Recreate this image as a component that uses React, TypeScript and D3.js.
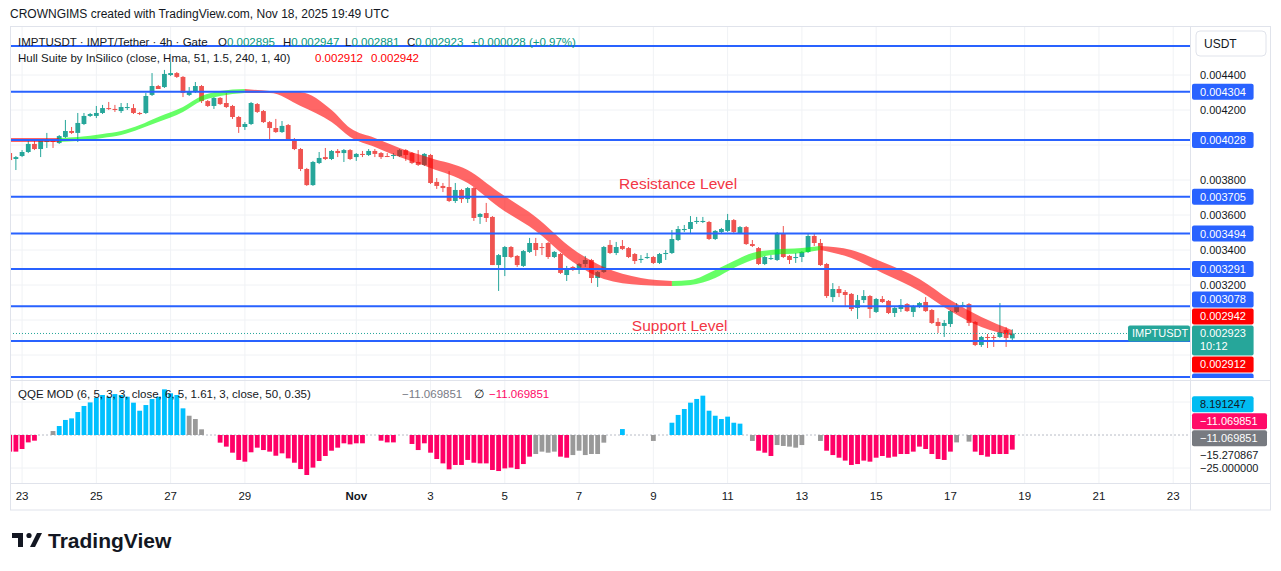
import * as d3 from 'd3'

// 4h candles of IMPTUSDT (Gate), Oct 22 16:00 UTC -> Nov 18 16:00 UTC
// prices in millionths of USDT (4304 = 0.004304)
const opens = [
  3954, 3920, 3937, 3960, 4006, 3977, 4017, 4023, 4011, 4046,
  4080, 4069, 4120, 4166, 4166, 4183, 4211, 4206, 4194, 4211,
  4211, 4183, 4183, 4286, 4337, 4331, 4400, 4411, 4389, 4286,
  4303, 4337, 4251, 4223, 4269, 4240, 4223, 4160, 4103, 4120,
  4234, 4194, 4131, 4097, 4074, 4114, 4034, 3977, 3863, 3771,
  3897, 3931, 3920, 3966, 3954, 3971, 3931, 3949, 3943, 3966,
  3954, 3937, 3937, 3937, 3971, 3954, 3903, 3886, 3943, 3789,
  3766, 3760, 3680, 3743, 3691, 3754, 3589, 3611, 3589, 3314,
  3360, 3417, 3366, 3309, 3389, 3440, 3417, 3440, 3360, 3377,
  3257, 3303, 3291, 3320, 3343, 3240, 3274, 3429, 3383, 3423,
  3411, 3377, 3343, 3354, 3360, 3326, 3377, 3383, 3457, 3514,
  3520, 3560, 3560, 3560, 3463, 3503, 3509, 3571, 3497, 3531,
  3434, 3411, 3320, 3349, 3343, 3497, 3366, 3354, 3360, 3389,
  3480, 3440, 3320, 3131, 3177, 3160, 3149, 3069, 3114, 3137,
  3046, 3120, 3109, 3040, 3063, 3091, 3046, 3074, 3103, 3057,
  2989, 2966, 2977, 3046, 3080, 3091, 2989, 2857, 2903, 2903,
  2903, 2943, 2895,
]
const highs = [
  3966, 3937, 3971, 4029, 4023, 4029, 4069, 4029, 4057, 4143,
  4103, 4183, 4183, 4183, 4223, 4229, 4246, 4229, 4240, 4240,
  4234, 4189, 4297, 4411, 4343, 4429, 4474, 4417, 4394, 4331,
  4360, 4343, 4257, 4274, 4274, 4297, 4229, 4166, 4131, 4246,
  4240, 4200, 4137, 4149, 4137, 4120, 4040, 3983, 3869, 3909,
  3960, 3983, 3971, 3977, 3977, 3977, 3954, 3966, 3977, 3977,
  3960, 3954, 3954, 3977, 3977, 3960, 3971, 3954, 3949, 3811,
  3783, 3851, 3783, 3749, 3760, 3760, 3611, 3669, 3594, 3377,
  3423, 3423, 3371, 3400, 3469, 3469, 3440, 3446, 3394, 3383,
  3309, 3309, 3326, 3366, 3349, 3280, 3423, 3457, 3446, 3457,
  3417, 3383, 3371, 3383, 3366, 3383, 3400, 3514, 3537, 3543,
  3594, 3589, 3589, 3566, 3514, 3526, 3606, 3577, 3537, 3537,
  3457, 3417, 3366, 3371, 3503, 3537, 3371, 3383, 3394, 3497,
  3497, 3463, 3326, 3211, 3194, 3171, 3154, 3143, 3171, 3143,
  3126, 3137, 3114, 3074, 3120, 3097, 3086, 3103, 3131, 3063,
  3011, 3000, 3057, 3097, 3103, 3097, 2994, 2909, 2920, 2914,
  3097, 2960, 2947,
]
const lows = [
  3903, 3857, 3931, 3954, 3971, 3931, 3983, 3983, 4006, 4040,
  4063, 4017, 4114, 4160, 4154, 4177, 4200, 4189, 4183, 4200,
  4177, 4171, 4177, 4280, 4320, 4326, 4394, 4383, 4274, 4280,
  4297, 4240, 4217, 4206, 4229, 4211, 4149, 4069, 4086, 4114,
  4183, 4126, 4034, 4069, 4069, 4029, 3971, 3851, 3766, 3766,
  3891, 3914, 3914, 3931, 3903, 3914, 3909, 3931, 3937, 3931,
  3920, 3931, 3920, 3931, 3909, 3891, 3880, 3880, 3777, 3749,
  3731, 3674, 3669, 3669, 3669, 3566, 3549, 3560, 3314, 3166,
  3251, 3354, 3303, 3303, 3383, 3366, 3371, 3349, 3354, 3263,
  3223, 3280, 3263, 3303, 3211, 3189, 3269, 3377, 3371, 3400,
  3354, 3320, 3326, 3349, 3320, 3320, 3343, 3377, 3451, 3503,
  3491, 3549, 3554, 3457, 3457, 3497, 3503, 3497, 3491, 3429,
  3417, 3314, 3314, 3343, 3337, 3354, 3320, 3326, 3331, 3383,
  3423, 3309, 3126, 3103, 3131, 3074, 3051, 3006, 3097, 3011,
  3040, 3097, 3034, 3017, 3046, 3046, 3017, 3069, 3046, 2977,
  2926, 2903, 2960, 3040, 3074, 2966, 2851, 2846, 2840, 2846,
  2897, 2846, 2881,
]
const closes = [
  3914, 3931, 3960, 4006, 3977, 4023, 4023, 4017, 4051, 4080,
  4069, 4126, 4166, 4177, 4183, 4211, 4206, 4200, 4217, 4217,
  4183, 4177, 4280, 4337, 4320, 4406, 4411, 4389, 4297, 4303,
  4337, 4251, 4223, 4269, 4234, 4217, 4160, 4103, 4120, 4240,
  4189, 4131, 4097, 4074, 4109, 4034, 3977, 3863, 3771, 3903,
  3926, 3920, 3966, 3954, 3971, 3920, 3949, 3943, 3966, 3949,
  3931, 3933, 3943, 3971, 3943, 3897, 3886, 3949, 3783, 3766,
  3754, 3680, 3743, 3691, 3754, 3583, 3606, 3583, 3314, 3371,
  3417, 3360, 3314, 3394, 3440, 3400, 3411, 3360, 3389, 3269,
  3297, 3291, 3320, 3343, 3240, 3274, 3417, 3383, 3417, 3406,
  3360, 3337, 3349, 3360, 3326, 3377, 3383, 3463, 3520, 3520,
  3560, 3566, 3566, 3463, 3509, 3520, 3571, 3503, 3531, 3434,
  3423, 3320, 3360, 3354, 3497, 3360, 3343, 3360, 3389, 3480,
  3440, 3314, 3137, 3177, 3154, 3143, 3063, 3114, 3137, 3063,
  3120, 3103, 3040, 3069, 3086, 3051, 3080, 3097, 3051, 2983,
  2966, 2983, 3051, 3080, 3086, 2983, 2857, 2903, 2897, 2897,
  2931, 2897, 2923,
]

// Hull Suite band, sampled at candle indices (upper / lower edge)
const hullIdx = [0, 8, 11, 15, 18, 21, 24, 28, 31, 34, 38, 42, 47, 52, 55, 59, 63, 68, 74, 79, 85, 91, 96, 102, 107, 110, 114, 117, 120, 123, 128, 131, 136, 141, 147, 152, 157, 162]
const hullHi = [4040, 4040, 4046, 4063, 4080, 4114, 4160, 4217, 4280, 4309, 4320, 4309, 4303, 4200, 4097, 4040, 3983, 3926, 3857, 3731, 3589, 3406, 3303, 3240, 3223, 3229, 3286, 3337, 3383, 3400, 3411, 3423, 3400, 3331, 3234, 3114, 3017, 2942]
const hullLo = [4017, 4017, 4023, 4040, 4057, 4091, 4131, 4189, 4251, 4280, 4297, 4297, 4223, 4131, 4046, 3989, 3931, 3869, 3783, 3646, 3509, 3331, 3234, 3200, 3194, 3200, 3240, 3297, 3343, 3371, 3383, 3400, 3354, 3269, 3166, 3051, 2960, 2912]

// QQE MOD histogram, one value per candle; kind: B blue, P pink, G gray, - none
const qqeVals = [
  -12.6, -12.6, -10.6, -5.6, -4.3, 0, 0, 3, 6.8, 11.4,
  12.6, 17.4, 22, 24.7, 28.3, 30.3, 29, 31, 30.3, 29,
  24.5, 18.4, 22.7, 27.3, 29, 34.6, 31.6, 30.3, 20.2, 14.6,
  12.1, 4.3, 0, 0, -5.8, -8.8, -13.4, -18.9, -20.2, -13.1,
  -9.6, -11.4, -12.6, -15.7, -13.9, -17.7, -21, -25.8, -30.3, -24.7,
  -19.7, -15.9, -11.9, -9.6, -6.3, -7.1, -6.3, -6.3, 0, 0,
  -4.3, -5.6, -5.6, 0, 0, -6.8, -11.4, -6.3, -13.4, -18.2,
  -21.5, -26, -22.7, -22.7, -18.9, -21, -21.5, -21.5, -26.5, -27.3,
  -25.3, -24.7, -25.8, -22, -16.4, -14.4, -12.6, -13.4, -12.6, -16.4,
  -17.2, -15.2, -11.9, -15.2, -14.4, -14.4, -5.8, 0, 0, 4.5,
  0, 0, 0, 0, -4.5, 0, 0, 9.3, 15.2, 19.7,
  24.5, 27.3, 29.8, 18.4, 14.6, 12.1, 13.9, 9.3, 8.6, 0,
  -4.5, -11.9, -13.4, -15.9, -7.6, -8.3, -8.8, -9.6, -7.6, 0,
  0, -4.5, -11.9, -15.2, -17.2, -19.4, -22.7, -22, -19.4, -20.2,
  -17.2, -15.9, -17.2, -16.4, -14.4, -14.4, -12.6, -8.8, -10.6, -14.4,
  -18.2, -18.9, -12.6, -5.6, 0, -5, -12.6, -15.2, -16.4, -14.4,
  -14.4, -14.4, -11.07,
]
const qqeKind = [
  'PPPPP--GBB', 'BBBBBBBBBB', 'BBBBBBBBBG', 'GG--PPPPPP', 'PPPPPPPPPP',
  'PPPPPPPP--', 'PPP--PPPPP', 'PPPPPPPPPP', 'PPPPPGGGGP', 'PGGGGGG--B',
  '----G--BBB', 'BBBBBBBBB-', 'GPPPGGGGG-', '-GPPPPPPPP', 'PPPPPPPPPP',
  'PPPG-GPPPP', 'PPP',
].join('')

// horizontal levels drawn on the chart
const levelPrices = [4566, 4304, 4028, 3705, 3494, 3291, 3078, 2880, 2674]
const priceTicks = [4400, 4200, 4000, 3800, 3600, 3400, 3200, 3000, 2800]
const dayTicks = ['2025-10-23', '2025-10-25', '2025-10-27', '2025-10-29', '2025-11-01', '2025-11-03', '2025-11-05', '2025-11-07', '2025-11-09', '2025-11-11', '2025-11-13', '2025-11-15', '2025-11-17', '2025-11-19', '2025-11-21', '2025-11-23']
const dayLabels = ['23', '25', '27', '29', 'Nov', '3', '5', '7', '9', '11', '13', '15', '17', '19', '21', '23']
const hullNow = [2942, 2912]
const lastPrice = 2923
// order: nearest to the anchor first
const qqeLabels = [
  { v: -11.069851, text: '\u221211.069851', bg: '#777a80', fg: '#fff' },
  { v: -11.069851, text: '\u221211.069851', bg: '#ff0a68', fg: '#fff' },
  { v: 8.191247, text: '8.191247', bg: '#00bcf2', fg: '#131722' },
]
const qqeAnchor = -15.270867
const qqeFloor = -25

const FONT = '"Liberation Sans", Arial, sans-serif'
const UP = '#26a69a'
const DOWN = '#ef5350'
const BLUE = '#2962ff'
const GRID = '#f0f2f5'
const BORDER = '#e0e3eb'
const TEXT = '#131722'

const fmt = (v: number) => (v / 1e6).toFixed(6)
const boxW = (s: string) => 8 + s.length * 6.7

export default function App() {
  const W = 1281, H = 571
  const L = 10, R = 1190, AR = 1270
  const top = 27, mainBot = 380, qTop = 381, qBot = 483, tBot = 510

  const t0 = new Date(Date.UTC(2025, 9, 22, 16))
  const tN = new Date(Date.UTC(2025, 10, 18, 16))
  const x = d3.scaleUtc().domain([t0, tN]).range([9.7, 1012.3])
  const y = d3.scaleLinear().domain([4400, 3200]).range([75, 285])
  const yq = d3.scaleLinear().domain([25, -25]).range([402, 468])
  const tk = (k: number) => x(d3.utcHour.offset(t0, 4 * k))
  const bw = 4.8

  // hull runs by direction
  const mids = hullIdx.map((_, i) => (hullHi[i] + hullLo[i]) / 2)
  const runs: { pts: number[]; up: boolean }[] = []
  let cur = { pts: [0], up: false }
  for (let i = 1; i < hullIdx.length; i++) {
    const up = mids[i] > mids[i - 1] ? true : mids[i] < mids[i - 1] ? false : cur.up
    if (cur.pts.length > 1 && up !== cur.up) {
      runs.push(cur)
      cur = { pts: [i - 1, i], up }
    } else {
      cur.pts.push(i)
      cur.up = up
    }
  }
  runs.push(cur)
  const hullArea = d3.area<number>()
    .x(i => tk(hullIdx[i]))
    .y0(i => y(hullLo[i]))
    .y1(i => y(hullHi[i]))
    .curve(d3.curveMonotoneX)

  // right-axis labels, pushed away from the last price box
  const lastY = y(lastPrice)
  const anchorTop = lastY - 8
  const anchorBot = lastY + 22
  const axisLimit = mainBot - 2
  type Lab = { v: number; text: string; bg: string; cy: number }
  const raw: Lab[] = [
    ...levelPrices.slice(1).map(v => ({ v, text: fmt(v), bg: BLUE, cy: y(v) })),
    { v: hullNow[0], text: fmt(hullNow[0]), bg: '#ff0000', cy: y(hullNow[0]) },
    { v: hullNow[1], text: fmt(hullNow[1]), bg: '#ff0000', cy: y(hullNow[1]) },
  ]
  const above = raw.filter(l => l.v > lastPrice).sort((a, b) => b.cy - a.cy)
  const below = raw.filter(l => l.v < lastPrice).sort((a, b) => a.cy - b.cy)
  let edge = anchorTop
  above.forEach(l => { l.cy = Math.min(l.cy, edge - 9); edge = l.cy - 8 })
  edge = anchorBot
  below.forEach(l => { l.cy = Math.max(l.cy, edge + 9); edge = l.cy + 8 })
  const axisLabs = [...above, ...below].filter(l => l.cy - 8 < axisLimit)
  const tickShown = priceTicks.filter(v => {
    const ty = y(v)
    if (ty > anchorTop - 6 && ty < anchorBot + 6) return false
    return axisLabs.every(l => Math.abs(l.cy - ty) > 12)
  })

  // QQE labels stacked above the anchor value
  const qAnchorY = yq(qqeAnchor)
  let qEdge = qAnchorY - 8
  const qLabs = qqeLabels.map(l => {
    const cy = Math.min(yq(l.v), qEdge - 9)
    qEdge = cy - 8
    return { ...l, cy }
  })

  const dates = dayTicks.map(s => new Date(s + 'T00:00:00Z'))
  const resistAt = { t: new Date(Date.UTC(2025, 10, 9, 16)), p: 3749 }
  const supportAt = { t: new Date(Date.UTC(2025, 10, 9, 17)), p: 2938 }

  return (
    <svg width={W} height={H} style={{ position: 'absolute', left: 0, top: 0, background: '#fff' }} fontFamily={FONT}>
      <defs>
        <clipPath id="mainClip"><rect x={L} y={top} width={R - L} height={mainBot - 2 - top} /></clipPath>
        <clipPath id="qClip"><rect x={L} y={qTop} width={R - L} height={qBot - qTop} /></clipPath>
        <clipPath id="axClip"><rect x={R} y={top} width={AR - R} height={axisLimit - top} /></clipPath>
      </defs>

      <text x={10} y={18} fontSize={12} fill={TEXT}>CROWNGIMS created with TradingView.com, Nov 18, 2025 19:49 UTC</text>

      {/* grid */}
      {dates.map((d, i) => (
        <line key={'vg' + i} x1={x(d)} x2={x(d)} y1={top} y2={qBot} stroke={GRID} />
      ))}
      {priceTicks.map(v => (
        <line key={'hg' + v} x1={L} x2={R} y1={y(v)} y2={y(v)} stroke={GRID} />
      ))}
      <line x1={L} x2={R} y1={yq(25)} y2={yq(25)} stroke={GRID} />
      <line x1={L} x2={R} y1={yq(-25)} y2={yq(-25)} stroke={GRID} />

      {/* main pane */}
      <g clipPath="url(#mainClip)">
        {opens.map((o, k) => {
          const c = closes[k]
          const col = c >= o ? UP : DOWN
          const cx = tk(k)
          const yt = y(Math.max(o, c))
          const yb = y(Math.min(o, c))
          return (
            <g key={'c' + k}>
              <line x1={cx} x2={cx} y1={y(highs[k])} y2={y(lows[k])} stroke={col} strokeWidth={1} />
              <rect x={cx - bw / 2} y={yt} width={bw} height={Math.max(1, yb - yt)} fill={col} />
            </g>
          )
        })}
        {runs.map((r, i) => (
          <path key={'h' + i} d={hullArea(r.pts) || ''} fill={r.up ? '#00ff00' : '#ff0000'} fillOpacity={0.6} />
        ))}
        {levelPrices.map(v => (
          <line key={'lv' + v} x1={L} x2={R} y1={y(v)} y2={y(v)} stroke={BLUE} strokeWidth={2} />
        ))}
        <line x1={L} x2={1128} y1={lastY} y2={lastY} stroke={UP} strokeDasharray="1,2" />
        <text x={x(resistAt.t)} y={y(resistAt.p)} fontSize={15.5} fill="#f23645" textAnchor="middle">Resistance Level</text>
        <text x={x(supportAt.t)} y={y(supportAt.p)} fontSize={15.5} fill="#f23645" textAnchor="middle">Support Level</text>
      </g>

      {/* legends */}
      <text x={18} y={46} fontSize={11.5} fill={TEXT}>
        <tspan>IMPTUSDT · IMPT/Tether · 4h · Gate</tspan>
        <tspan x={218}>O</tspan><tspan fill="#089981">{fmt(opens[162])}</tspan>
        <tspan x={283}>H</tspan><tspan fill="#089981">{fmt(highs[162])}</tspan>
        <tspan x={345}>L</tspan><tspan fill="#089981">{fmt(lows[162])}</tspan>
        <tspan x={407}>C</tspan><tspan fill="#089981">{fmt(closes[162])}</tspan>
        <tspan x={471} fill="#089981">+0.000028 (+0.97%)</tspan>
      </text>
      <text x={18} y={62} fontSize={11.5} fill={TEXT}>
        <tspan>Hull Suite by InSilico (close, Hma, 51, 1.5, 240, 1, 40)</tspan>
        <tspan x={315} fill="#ff0000">{fmt(hullNow[1])}</tspan>
        <tspan x={371} fill="#ff0000">{fmt(hullNow[0])}</tspan>
      </text>

      {/* QQE pane */}
      <line x1={L} x2={R} y1={yq(0)} y2={yq(0)} stroke="#b8bcc6" strokeDasharray="2,2" />
      <g clipPath="url(#qClip)">
        {qqeVals.map((v, k) => {
          const kind = qqeKind[k]
          if (kind === '-' || v === 0) return null
          const col = kind === 'B' ? '#00c0ff' : kind === 'P' ? '#ff0066' : '#999999'
          const y0 = yq(0), y1 = yq(v)
          return <rect key={'q' + k} x={tk(k) - bw / 2} y={Math.min(y0, y1)} width={bw} height={Math.abs(y1 - y0)} fill={col} />
        })}
      </g>
      <text x={18} y={398} fontSize={11.5} fill={TEXT}>QQE MOD (6, 5, 3, 3, close, 6, 5, 1.61, 3, close, 50, 0.35)</text>
      <text x={402} y={398} fontSize={11.5}>
        <tspan fill="#787b86">{'\u221211.069851'}</tspan>
        <tspan x={474} fill={TEXT}>∅</tspan>
        <tspan x={489} fill="#ff0a68">{'\u221211.069851'}</tspan>
      </text>

      {/* frames */}
      <rect x={L + 0.5} y={top - 0.5} width={AR - L} height={tBot - top + 0.5} fill="none" stroke={BORDER} />
      <line x1={R + 0.5} x2={R + 0.5} y1={top} y2={tBot} stroke={BORDER} />
      <line x1={L} x2={AR} y1={mainBot + 0.5} y2={mainBot + 0.5} stroke={BORDER} />
      <line x1={L} x2={AR} y1={qBot + 0.5} y2={qBot + 0.5} stroke={BORDER} />

      {/* price axis */}
      {tickShown.map(v => (
        <text key={'pt' + v} x={1200} y={y(v) + 4} fontSize={11} fill={TEXT}>{fmt(v)}</text>
      ))}
      <g clipPath="url(#axClip)">
        {axisLabs.map((l, i) => (
          <g key={'al' + i}>
            <rect x={R + 2} y={l.cy - 8} width={boxW(l.text)} height={16} rx={2} fill={l.bg} />
            {l.cy + 4 < axisLimit && <text x={R + 10} y={l.cy + 4} fontSize={11} fill="#fff">{l.text}</text>}
          </g>
        ))}
      </g>
      <rect x={R + 2} y={anchorTop} width={boxW(fmt(lastPrice))} height={anchorBot - anchorTop} rx={2} fill={UP} />
      <text x={R + 10} y={lastY + 4} fontSize={11} fill="#fff">{fmt(lastPrice)}</text>
      <text x={R + 10} y={lastY + 17} fontSize={11} fill="#fff">10:12</text>
      <rect x={1128} y={lastY - 8} width={R - 1128} height={16} rx={2} fill={UP} />
      <text x={1132} y={lastY + 4} fontSize={11} fill="#fff">IMPTUSDT</text>
      <rect x={1196} y={31} width={70} height={25} rx={4} fill="#fff" stroke={BORDER} />
      <text x={1204} y={48} fontSize={12} fill={TEXT}>USDT</text>

      {/* QQE axis */}
      <text x={R + 10} y={yq(qqeFloor) + 4} fontSize={11} fill={TEXT}>{'\u2212' + Math.abs(qqeFloor).toFixed(6)}</text>
      <rect x={R + 2} y={qAnchorY - 8} width={76} height={16} fill="#fff" />
      <text x={R + 10} y={qAnchorY + 4} fontSize={11} fill={TEXT}>{'\u2212' + Math.abs(qqeAnchor).toFixed(6)}</text>
      {qLabs.map((l, i) => (
        <g key={'ql' + i}>
          <rect x={R + 2} y={l.cy - 8} width={boxW(l.text)} height={16} rx={2} fill={l.bg} />
          <text x={R + 10} y={l.cy + 4} fontSize={11} fill={l.fg}>{l.text}</text>
        </g>
      ))}

      {/* time axis */}
      {dates.map((d, i) => (
        <text key={'tl' + i} x={x(d)} y={500} fontSize={11.5} fill={TEXT} textAnchor="middle" fontWeight={dayLabels[i] === 'Nov' ? 700 : 400}>{dayLabels[i]}</text>
      ))}

      {/* TradingView logo */}
      <g fill={TEXT}>
        <rect x={12} y={533} width={11} height={5} />
        <rect x={18} y={533} width={5} height={14} />
        <circle cx={29} cy={535.5} r={2.6} />
        <polygon points="30,547 35,547 42,533 37,533" />
        <text x={48} y={548} fontSize={21} fontWeight={700}>TradingView</text>
      </g>
    </svg>
  )
}
